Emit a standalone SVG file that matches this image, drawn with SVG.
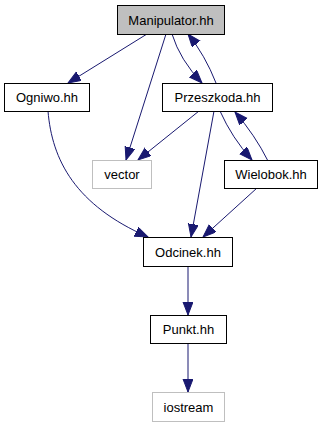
<svg xmlns="http://www.w3.org/2000/svg" width="324" height="427" viewBox="0 0 324 427">
  <style>
    .node rect { fill: #ffffff; stroke: #000000; stroke-width: 1; }
    .node.main rect { fill: #bfbfbf; }
    .node.ext rect { stroke: #bfbfbf; }
    .node text { font-family: "Liberation Sans", Arial, sans-serif; font-size: 13px; fill: #000000; text-anchor: middle; }
    .edge { fill: none; stroke: #191970; stroke-width: 1; marker-end: url(#arrow); }
  </style>
  <defs>
    <marker id="arrow" markerUnits="userSpaceOnUse" markerWidth="14" markerHeight="11" refX="13" refY="5" orient="auto">
      <path d="M0,0 L13,5 L0,10 z" fill="#191970" stroke="#191970" stroke-width="1"/>
    </marker>
  </defs>
  <rect width="324" height="427" fill="#ffffff"/>

  <g id="edges">
    <path class="edge" d="M147,34 L68,83"/>
    <path class="edge" d="M166,34 L126,160"/>
    <path class="edge" d="M172,34 Q180,60 202,83"/>
    <path class="edge" d="M216,83 Q205,55 188,34"/>
    <path class="edge" d="M199,111 L138,160"/>
    <path class="edge" d="M214,111 L191,237"/>
    <path class="edge" d="M220,111 Q232,138 252,160"/>
    <path class="edge" d="M268,161 Q255,135 235,112"/>
    <path class="edge" d="M257,188 L203,237"/>
    <path class="edge" d="M48,111 C52,160 75,205 148,237"/>
    <path class="edge" d="M188,266 L188,315"/>
    <path class="edge" d="M188,343 L188,392"/>
  </g>

  <g id="node-manipulator" class="node main">
    <rect x="117.5" y="5.5" width="107" height="29"/>
    <text x="171" y="24.5">Manipulator.hh</text>
  </g>
  <g id="node-ogniwo" class="node">
    <rect x="4.5" y="83.5" width="85" height="28"/>
    <text x="47" y="102">Ogniwo.hh</text>
  </g>
  <g id="node-przeszkoda" class="node">
    <rect x="162.5" y="83.5" width="110" height="28"/>
    <text x="217.5" y="102">Przeszkoda.hh</text>
  </g>
  <g id="node-vector" class="node ext">
    <rect x="92.5" y="160.5" width="59" height="28"/>
    <text x="122" y="179">vector</text>
  </g>
  <g id="node-wielobok" class="node">
    <rect x="224.5" y="160.5" width="93" height="28"/>
    <text x="271" y="179">Wielobok.hh</text>
  </g>
  <g id="node-odcinek" class="node">
    <rect x="143.5" y="237.5" width="89" height="29"/>
    <text x="188" y="256.5">Odcinek.hh</text>
  </g>
  <g id="node-punkt" class="node">
    <rect x="150.5" y="315.5" width="76" height="28"/>
    <text x="188.5" y="334">Punkt.hh</text>
  </g>
  <g id="node-iostream" class="node ext">
    <rect x="152.5" y="392.5" width="72" height="29"/>
    <text x="188.5" y="411.5">iostream</text>
  </g>
</svg>
